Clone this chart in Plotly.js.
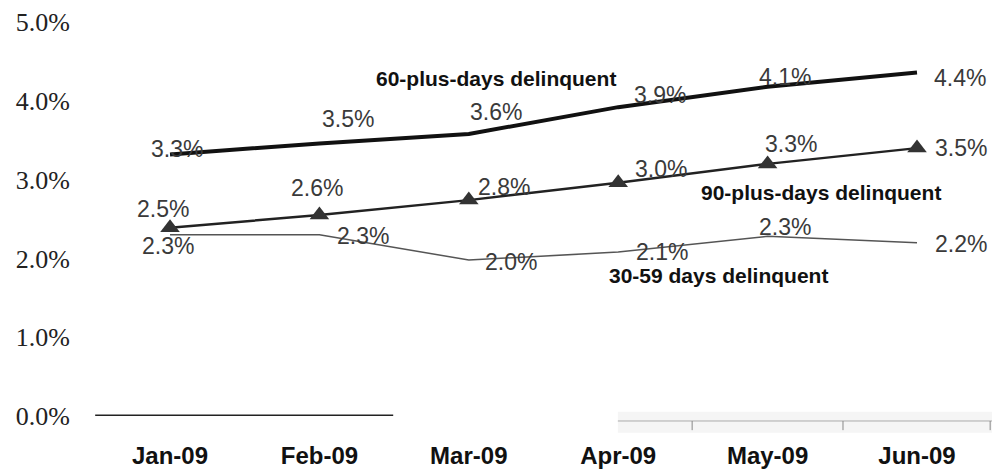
<!DOCTYPE html>
<html>
<head>
<meta charset="utf-8">
<script src="https://cdn.plot.ly/plotly-3.0.1.min.js"></script>
<style>html,body{margin:0;padding:0;background:#fff;}#chart{width:992px;height:472px;}</style>
</head>
<body>
<div id="chart"></div>
<script>
// ---- data ----
const months = ["Jan-09", "Feb-09", "Mar-09", "Apr-09", "May-09", "Jun-09"];
const plus60 = [3.32, 3.46, 3.58, 3.92, 4.18, 4.36];
const plus60Labels = ["3.3%", "3.5%", "3.6%", "3.9%", "4.1%", "4.4%"];
const plus90 = [2.39, 2.55, 2.74, 2.96, 3.20, 3.40];
const plus90Labels = ["2.5%", "2.6%", "2.8%", "3.0%", "3.3%", "3.5%"];
const days3059 = [2.30, 2.30, 1.98, 2.08, 2.28, 2.20];
const days3059Labels = ["2.3%", "2.3%", "2.0%", "2.1%", "2.3%", "2.2%"];
const yTicks = [0, 1, 2, 3, 4, 5];

// ---- label offsets (pixels) ----
const off60 = [[7, 5], [29, 24], [27, 22], [42, 12], [17, 10], [43, -6]];
const off90 = [[-7, 19], [-2, 27], [35, 13], [43, 14], [23, 20], [44, 0]];
const off3059 = [[-2, -11], [44, -1], [42, -2], [44, 0], [17, 9], [44, -1]];

const traces = [
  {x: months, y: plus60, type: "scatter", mode: "lines", line: {color: "#111", width: 4}, hoverinfo: "skip"},
  {x: months, y: plus90, type: "scatter", mode: "lines+markers", line: {color: "#222", width: 2.5},
   marker: {symbol: "triangle-up", size: 17, color: "#333"}, hoverinfo: "skip"},
  {x: months, y: days3059, type: "scatter", mode: "lines", line: {color: "#555", width: 1.5}, hoverinfo: "skip"}
];

const labelFont = {family: "Liberation Sans, Arial, sans-serif", size: 23, color: "#3a3a3a"};
const annotations = [];
function addLabels(vals, labels, offs) {
  vals.forEach((v, i) => {
    annotations.push({x: months[i], y: v, xref: "x", yref: "y", text: labels[i], showarrow: false,
      xshift: offs[i][0], yshift: offs[i][1], font: labelFont});
  });
}
addLabels(plus60, plus60Labels, off60);
addLabels(plus90, plus90Labels, off90);
addLabels(days3059, days3059Labels, off3059);

const seriesFont = {family: "Liberation Sans, Arial, sans-serif", size: 21, color: "#111"};
annotations.push({x: 2.18, y: 4.28, xref: "x", yref: "y", text: "<b>60-plus-days delinquent</b>", showarrow: false, font: seriesFont});
annotations.push({x: 4.36, y: 2.84, xref: "x", yref: "y", text: "<b>90-plus-days delinquent</b>", showarrow: false, font: seriesFont});
annotations.push({x: 3.67, y: 1.78, xref: "x", yref: "y", text: "<b>30-59 days delinquent</b>", showarrow: false, font: seriesFont});

const shapes = [
  {type: "rect", xref: "paper", yref: "paper", x0: 0.592, x1: 1.0, y0: 0.01, y1: -0.04, fillcolor: "#f5f5f5", line: {width: 0}, layer: "below"},
  {type: "line", xref: "paper", yref: "paper", x0: 0.022, x1: 0.347, y0: 0.002, y1: 0.002, line: {color: "#222", width: 1.5}},
  {type: "line", xref: "paper", yref: "paper", x0: 0.592, x1: 1.0, y0: -0.012, y1: -0.012, line: {color: "#aaa", width: 1}},
  {type: "line", xref: "paper", yref: "paper", x0: 0.673, x1: 0.673, y0: -0.012, y1: -0.034, line: {color: "#888", width: 1}},
  {type: "line", xref: "paper", yref: "paper", x0: 0.8375, x1: 0.8375, y0: -0.012, y1: -0.034, line: {color: "#888", width: 1}},
  {type: "line", xref: "paper", yref: "paper", x0: 0.998, x1: 0.998, y0: -0.012, y1: -0.034, line: {color: "#888", width: 1}}
];

const layout = {
  width: 992, height: 472,
  margin: {l: 75, r: 0, t: 0, b: 56},
  paper_bgcolor: "#fff", plot_bgcolor: "#fff",
  showlegend: false,
  xaxis: {type: "category", range: [-0.636, 5.502], showgrid: false, zeroline: false, showline: false,
    ticks: "", ticklabelstandoff: 23,
    tickfont: {family: "Liberation Sans, Arial, sans-serif", size: 24, color: "#111", weight: "bold"}},
  yaxis: {range: [0, 5.28], tickvals: yTicks, ticktext: yTicks.map(v => v.toFixed(1) + "%"),
    showgrid: false, zeroline: false, showline: false, ticks: "", ticklabelstandoff: 4,
    tickfont: {family: "Liberation Serif, Times New Roman, serif", size: 26, color: "#222"}},
  annotations: annotations,
  shapes: shapes
};

Plotly.newPlot("chart", traces, layout, {staticPlot: true, displayModeBar: false});
</script>
</body>
</html>
